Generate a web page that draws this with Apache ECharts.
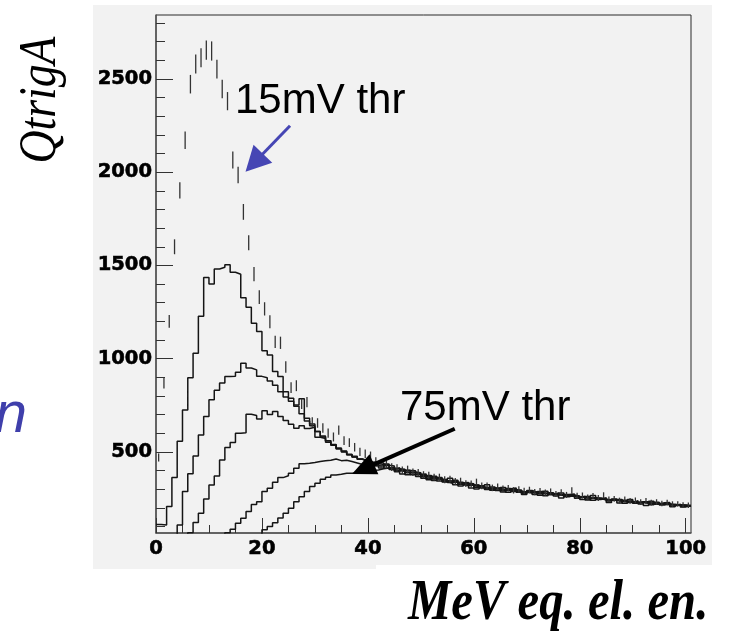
<!DOCTYPE html>
<html>
<head>
<meta charset="utf-8">
<script src="https://cdn.jsdelivr.net/npm/echarts@6/dist/echarts.min.js"></script>
<style>
  html, body { margin: 0; padding: 0; background: #ffffff; }
  #chart { width: 736px; height: 634px; }
</style>
</head>
<body>
<div id="chart"></div>
<script>
// Counts per 1 MeV bin (0..101 MeV) for each discriminator threshold.
const qtrig15 = [
  470, 870, 1200, 1600, 1903, 2171, 2472, 2580, 2614, 2655,
  2650, 2553, 2446, 2381, 2065, 1985, 1787, 1622, 1453, 1330,
  1267, 1198, 1090, 1085, 955, 845, 855, 757, 767, 660,
  655, 628, 601, 580, 617, 560, 550, 525, 500, 490,
  480, 450, 436, 432, 418, 414, 402, 406, 391, 388,
  377, 374, 364, 364, 350, 353, 341, 343, 330, 329,
  338, 318, 318, 307, 313, 302, 305, 294, 298, 291,
  296, 284, 289, 281, 287, 274, 283, 269, 293, 264,
  266, 256, 263, 253, 267, 245, 248, 239, 245, 237,
  240, 231, 237, 228, 231, 223, 228, 220, 221, 215,
  214
];
const qtrig27 = [
  110, 108, 207, 362, 557, 725, 898, 1029, 1228, 1435,
  1400, 1481, 1490, 1503, 1463, 1453, 1327, 1276, 1190, 1145,
  1042, 1020, 931, 904, 823, 788, 752, 785, 680, 650,
  610, 585, 560, 540, 520, 505, 485, 472, 460, 450,
  442, 447, 414, 435, 406, 415, 382, 400, 399, 368,
  376, 350, 370, 358, 339, 358, 324, 333, 336, 306,
  322, 308, 324, 294, 306, 285, 303, 306, 283, 271,
  293, 284, 268, 289, 270, 280, 253, 272, 274, 252,
  259, 242, 266, 245, 254, 228, 245, 245, 225, 245,
  225, 232, 212, 235, 219, 227, 228, 206, 217, 205,
  212
];
const qtrig39 = [
  0, 0, 0, 0, 108, 288, 383, 478, 590, 690,
  779, 830, 870, 904, 906, 927, 975, 950, 940, 905,
  898, 880, 858, 823, 795, 772, 745, 705, 665, 640,
  610, 580, 560, 538, 520, 500, 485, 472, 460, 452,
  443, 425, 440, 412, 418, 393, 407, 378, 392, 388,
  359, 373, 346, 363, 341, 332, 348, 317, 332, 329,
  301, 319, 298, 312, 293, 309, 283, 298, 294, 276,
  291, 272, 287, 265, 281, 264, 279, 259, 269, 264,
  245, 261, 241, 253, 249, 236, 248, 226, 241, 228,
  238, 221, 233, 216, 230, 216, 225, 210, 220, 207,
  209
];
const qtrig51 = [
  0, 0, 0, 0, 0, 0, 67, 121, 171, 248,
  323, 371, 457, 523, 550, 600, 602, 702, 695, 677,
  721, 700, 716, 690, 668, 648, 627, 640, 625, 632,
  578, 572, 552, 535, 516, 502, 488, 476, 462, 452,
  444, 445, 424, 428, 424, 399, 402, 402, 377, 380,
  381, 359, 364, 344, 352, 336, 344, 327, 318, 326,
  310, 319, 303, 307, 303, 292, 300, 287, 295, 283,
  280, 286, 275, 280, 270, 274, 265, 269, 261, 256,
  262, 248, 255, 246, 246, 240, 244, 234, 233, 238,
  226, 231, 225, 221, 228, 217, 222, 215, 216, 215,
  213
];
const qtrig63 = [
  0, 0, 0, 0, 0, 0, 0, 0, 0, 0,
  0, 0, 0, 67, 85, 117, 144, 180, 218, 233,
  287, 305, 337, 362, 372, 386, 412, 436, 439, 443,
  448, 453, 455, 462, 453, 455, 448, 440, 432, 428,
  425, 427, 432, 430, 414, 410, 404, 388, 388, 382,
  366, 368, 354, 354, 350, 338, 337, 337, 323, 322,
  321, 308, 311, 299, 305, 296, 296, 295, 291, 283,
  286, 279, 282, 274, 279, 269, 271, 264, 266, 256,
  259, 251, 252, 250, 242, 244, 239, 240, 233, 234,
  230, 230, 229, 224, 224, 222, 217, 219, 214, 214,
  211
];
const qtrig75 = [
  0, 0, 0, 0, 0, 0, 0, 0, 0, 0,
  0, 0, 0, 0, 0, 0, 0, 0, 0, 0,
  82, 100, 120, 145, 171, 198, 233, 260, 287, 314,
  332, 353, 364, 376, 380, 386, 386, 388, 392, 398,
  402, 403, 410, 414, 404, 402, 394, 392, 380, 378,
  368, 364, 358, 352, 346, 344, 334, 330, 328, 320,
  314, 312, 306, 304, 300, 298, 292, 292, 288, 286,
  282, 280, 278, 276, 274, 272, 268, 266, 262, 260,
  256, 254, 250, 248, 246, 242, 240, 236, 236, 232,
  230, 228, 226, 226, 222, 220, 218, 216, 214, 212,
  210
];

// Axis ranges and tick labels
const xRange = [0, 101];
const xMajorTicks = [0, 20, 40, 60, 80, 100];
const xMinorTicks = [5, 10, 15, 25, 30, 35, 45, 50, 55, 65, 70, 75, 85, 90, 95];
const yRange = [65, 2843];
const yMajorTicks = [500, 1000, 1500, 2000, 2500];
const yMinorTicks = [100, 200, 300, 400, 600, 700, 800, 900, 1100, 1200, 1300, 1400,
  1600, 1700, 1800, 1900, 2100, 2200, 2300, 2400, 2600, 2700, 2800];

// Annotation arrows in data coordinates: [fromX, fromY, tipX, tipY]
const arrow15 = [25.3, 2249, 16.9, 2002];
const arrow75 = [56.4, 624, 37.0, 382];

const lineColor = '#151515';
const arrowLook = [
  { color: '#4646b4', width: 3, headLen: 25, headWidth: 26 },
  { color: '#000000', width: 4, headLen: 24, headWidth: 22 }
];

// Histogram outline: each bin value starts at its lower edge; close the last bin
function stepPoints(values) {
  const pts = values.map((v, i) => [i, v]);
  pts.push([values.length, values[values.length - 1]]);
  return pts;
}

function histSeries(name, values) {
  return {
    name: name,
    type: 'line',
    step: 'end',
    data: stepPoints(values),
    showSymbol: false,
    clip: true,
    lineStyle: { color: lineColor, width: 1.5 },
    z: 3
  };
}

const tickFont = {
  fontFamily: 'DejaVu Sans', fontWeight: 'bold', fontSize: 19.5, color: '#000',
  textBorderColor: '#000', textBorderWidth: 0.6,
  formatter: v => String(v)
};
const tickLine = { color: '#333', width: 1 };

const chart = echarts.init(document.getElementById('chart'), null, { renderer: 'canvas' });

chart.setOption({
  animation: false,
  backgroundColor: '#ffffff',
  grid: {
    left: 156, right: 45, top: 15, bottom: 101,
    show: true,
    backgroundColor: 'transparent',
    borderColor: '#2a2a2a',
    borderWidth: 1
  },
  xAxis: [
    {
      type: 'value',
      min: xRange[0], max: xRange[1],
      axisLine: { lineStyle: { color: '#555', width: 1.5 } },
      axisTick: { inside: true, length: 15, customValues: xMajorTicks, lineStyle: tickLine },
      axisLabel: Object.assign({ margin: 6, customValues: xMajorTicks }, tickFont),
      splitLine: { show: false }
    },
    {
      type: 'value',
      position: 'bottom',
      min: xRange[0], max: xRange[1],
      axisLine: { show: false },
      axisTick: { show: true, inside: true, length: 8, customValues: xMinorTicks, lineStyle: tickLine },
      axisLabel: { show: false },
      splitLine: { show: false }
    }
  ],
  yAxis: [
    {
      type: 'value',
      min: yRange[0], max: yRange[1],
      axisLine: { show: true, lineStyle: { color: '#555', width: 1.5 } },
      axisTick: { show: true, inside: true, length: 17, customValues: yMajorTicks, lineStyle: tickLine },
      axisLabel: Object.assign({ margin: 4, customValues: yMajorTicks }, tickFont),
      splitLine: { show: false }
    },
    {
      type: 'value',
      position: 'left',
      min: yRange[0], max: yRange[1],
      axisLine: { show: false },
      axisTick: { show: true, inside: true, length: 9, customValues: yMinorTicks, lineStyle: tickLine },
      axisLabel: { show: false },
      splitLine: { show: false }
    }
  ],
  graphic: [
    { type: 'rect', z: -10, shape: { x: 93, y: 5, width: 619, height: 564 }, style: { fill: '#f2f2f2' } },
    { type: 'rect', z: -5, shape: { x: 376, y: 565, width: 360, height: 69 }, style: { fill: '#ffffff' } },
    {
      type: 'text', z: 100, x: 41, y: 100, rotation: Math.PI / 2, scaleX: 0.88,
      style: { text: 'QtrigA', font: 'italic 52px "Liberation Serif"', fill: '#000', align: 'center', verticalAlign: 'middle' }
    },
    {
      type: 'text', z: 100, x: 408, y: 605, scaleX: 0.87,
      style: { text: 'MeV eq. el. en.', font: 'italic bold 56px "Liberation Serif"', fill: '#000', align: 'left', verticalAlign: 'middle' }
    },
    {
      type: 'text', z: 100, x: 235, y: 101,
      style: { text: '15mV thr', font: '42px "Liberation Sans"', fill: '#000', align: 'left', verticalAlign: 'middle' }
    },
    {
      type: 'text', z: 100, x: 400, y: 408,
      style: { text: '75mV thr', font: '42px "Liberation Sans"', fill: '#000', align: 'left', verticalAlign: 'middle' }
    },
    {
      type: 'text', z: 100, x: 27, y: 416,
      style: { text: 'n', font: 'italic 58px "Liberation Sans"', fill: '#3f3fab', align: 'right', verticalAlign: 'middle' }
    }
  ],
  series: [
    histSeries('27mV', qtrig27),
    histSeries('39mV', qtrig39),
    histSeries('51mV', qtrig51),
    histSeries('63mV', qtrig63),
    histSeries('75mV', qtrig75),
    {
      name: '15mV',
      type: 'custom',
      clip: true,
      z: 4,
      data: qtrig15.map((v, i) => [i + 0.5, v]),
      encode: { x: 0, y: 1 },
      renderItem: function (params, api) {
        const x = api.value(0);
        const v = api.value(1);
        const err = Math.sqrt(v);
        const top = api.coord([x, v + err]);
        const bot = api.coord([x, v - err]);
        return {
          type: 'line',
          shape: { x1: top[0], y1: top[1], x2: bot[0], y2: bot[1] },
          style: { stroke: '#333', lineWidth: 1.3 }
        };
      }
    },
    {
      name: 'arrows',
      type: 'custom',
      clip: false,
      z: 10,
      data: [arrow15, arrow75],
      encode: { x: [0, 2], y: [1, 3] },
      renderItem: function (params, api) {
        const look = arrowLook[params.dataIndex];
        const p0 = api.coord([api.value(0), api.value(1)]);
        const tip = api.coord([api.value(2), api.value(3)]);
        const dx = tip[0] - p0[0], dy = tip[1] - p0[1];
        const len = Math.sqrt(dx * dx + dy * dy);
        const ux = dx / len, uy = dy / len;
        const bx = tip[0] - ux * look.headLen, by = tip[1] - uy * look.headLen;
        const hw = look.headWidth / 2;
        return {
          type: 'group',
          children: [
            {
              type: 'line',
              shape: { x1: p0[0], y1: p0[1], x2: bx + ux * 2, y2: by + uy * 2 },
              style: { stroke: look.color, lineWidth: look.width }
            },
            {
              type: 'polygon',
              shape: { points: [[tip[0], tip[1]], [bx - uy * hw, by + ux * hw], [bx + uy * hw, by - ux * hw]] },
              style: { fill: look.color }
            }
          ]
        };
      }
    }
  ]
});
</script>
</body>
</html>
